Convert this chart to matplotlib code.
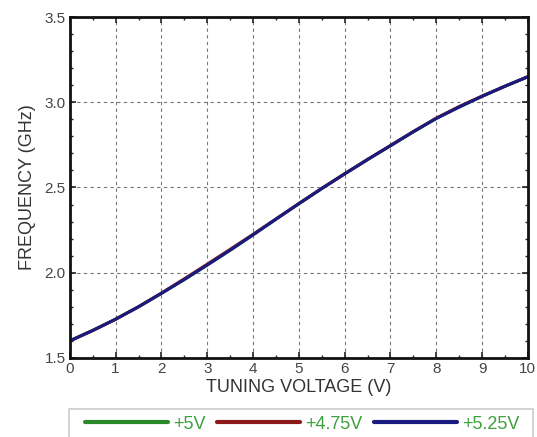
import numpy as np
import matplotlib.pyplot as plt
from matplotlib.patches import Rectangle
from matplotlib.ticker import MultipleLocator

plt.rcParams['font.family'] = ['Liberation Sans', 'DejaVu Sans']

# tuning voltage (V) and frequency (GHz)
volts = [0, 0.5, 1, 1.5, 2, 2.5, 3, 3.5, 4, 4.5, 5, 5.5, 6, 6.5, 7, 7.5, 8, 8.5, 9, 9.5, 10]
freq_5v = [1.600, 1.661, 1.727, 1.800, 1.879, 1.960, 2.045, 2.132, 2.222, 2.314, 2.405,
           2.494, 2.580, 2.664, 2.745, 2.827, 2.905, 2.972, 3.035, 3.094, 3.150]
freq_475v = [1.600, 1.661, 1.727, 1.800, 1.880, 1.964, 2.050, 2.137, 2.225, 2.315, 2.405,
             2.494, 2.580, 2.664, 2.746, 2.828, 2.907, 2.975, 3.036, 3.094, 3.150]
freq_525v = [1.600, 1.661, 1.727, 1.800, 1.879, 1.960, 2.045, 2.132, 2.222, 2.314, 2.405,
             2.494, 2.580, 2.664, 2.745, 2.827, 2.905, 2.972, 3.035, 3.094, 3.150]
labels = ['+5V', '+4.75V', '+5.25V']
colors = ['#2a8a2a', '#8b1a1a', '#1a1a80']


def main():
  fig = plt.figure(figsize=(5.37, 4.37), dpi=100)
  ax = fig.add_axes([0.130, 0.181, 0.853, 0.780])

  for f, lab, c in zip([freq_5v, freq_475v, freq_525v], labels, colors):
    ax.plot(volts, f, color=c, lw=2.2, label=lab, solid_capstyle='round', solid_joinstyle='round')

  ax.set_xlim(0, 10)
  ax.set_ylim(1.5, 3.5)
  ax.xaxis.set_major_locator(MultipleLocator(1))
  ax.xaxis.set_minor_locator(MultipleLocator(0.5))
  ax.yaxis.set_major_locator(MultipleLocator(0.5))
  ax.yaxis.set_minor_locator(MultipleLocator(0.1))
  ax.tick_params(which='both', direction='in', top=True, right=True, color='#222222')
  ax.tick_params(which='major', length=4, width=1.2, labelsize=11, labelcolor='#444444', pad=3)
  ax.tick_params(which='minor', length=2.5, width=1)
  ax.grid(True, which='major', color='#777777', ls=(0, (3, 3)), lw=0.8)
  for s in ax.spines.values():
    s.set_linewidth(2)
    s.set_color('#111111')

  ax.set_xlabel('TUNING VOLTAGE (V)', fontsize=13, color='#333333', labelpad=2)
  ax.set_ylabel('FREQUENCY (GHz)', fontsize=13, color='#333333', labelpad=6)

  # legend box runs off the bottom edge like in the original
  fig.patches.append(Rectangle((0.1285, -0.05), 0.864, 0.114, transform=fig.transFigure,
                               facecolor='white', edgecolor='#cccccc', lw=1.2))
  leg = fig.legend(loc='center left', ncol=3, bbox_to_anchor=(0.158, 0.0297),
                   frameon=False, fontsize=13,
                   labelcolor='#3fa03f', handlelength=4.6, handletextpad=0.28,
                   columnspacing=0.65, borderpad=0.0, borderaxespad=0)
  for line in leg.get_lines():
    line.set_linewidth(3)

  fig.savefig('out.png', dpi=100)


if __name__ == '__main__':
  main()
